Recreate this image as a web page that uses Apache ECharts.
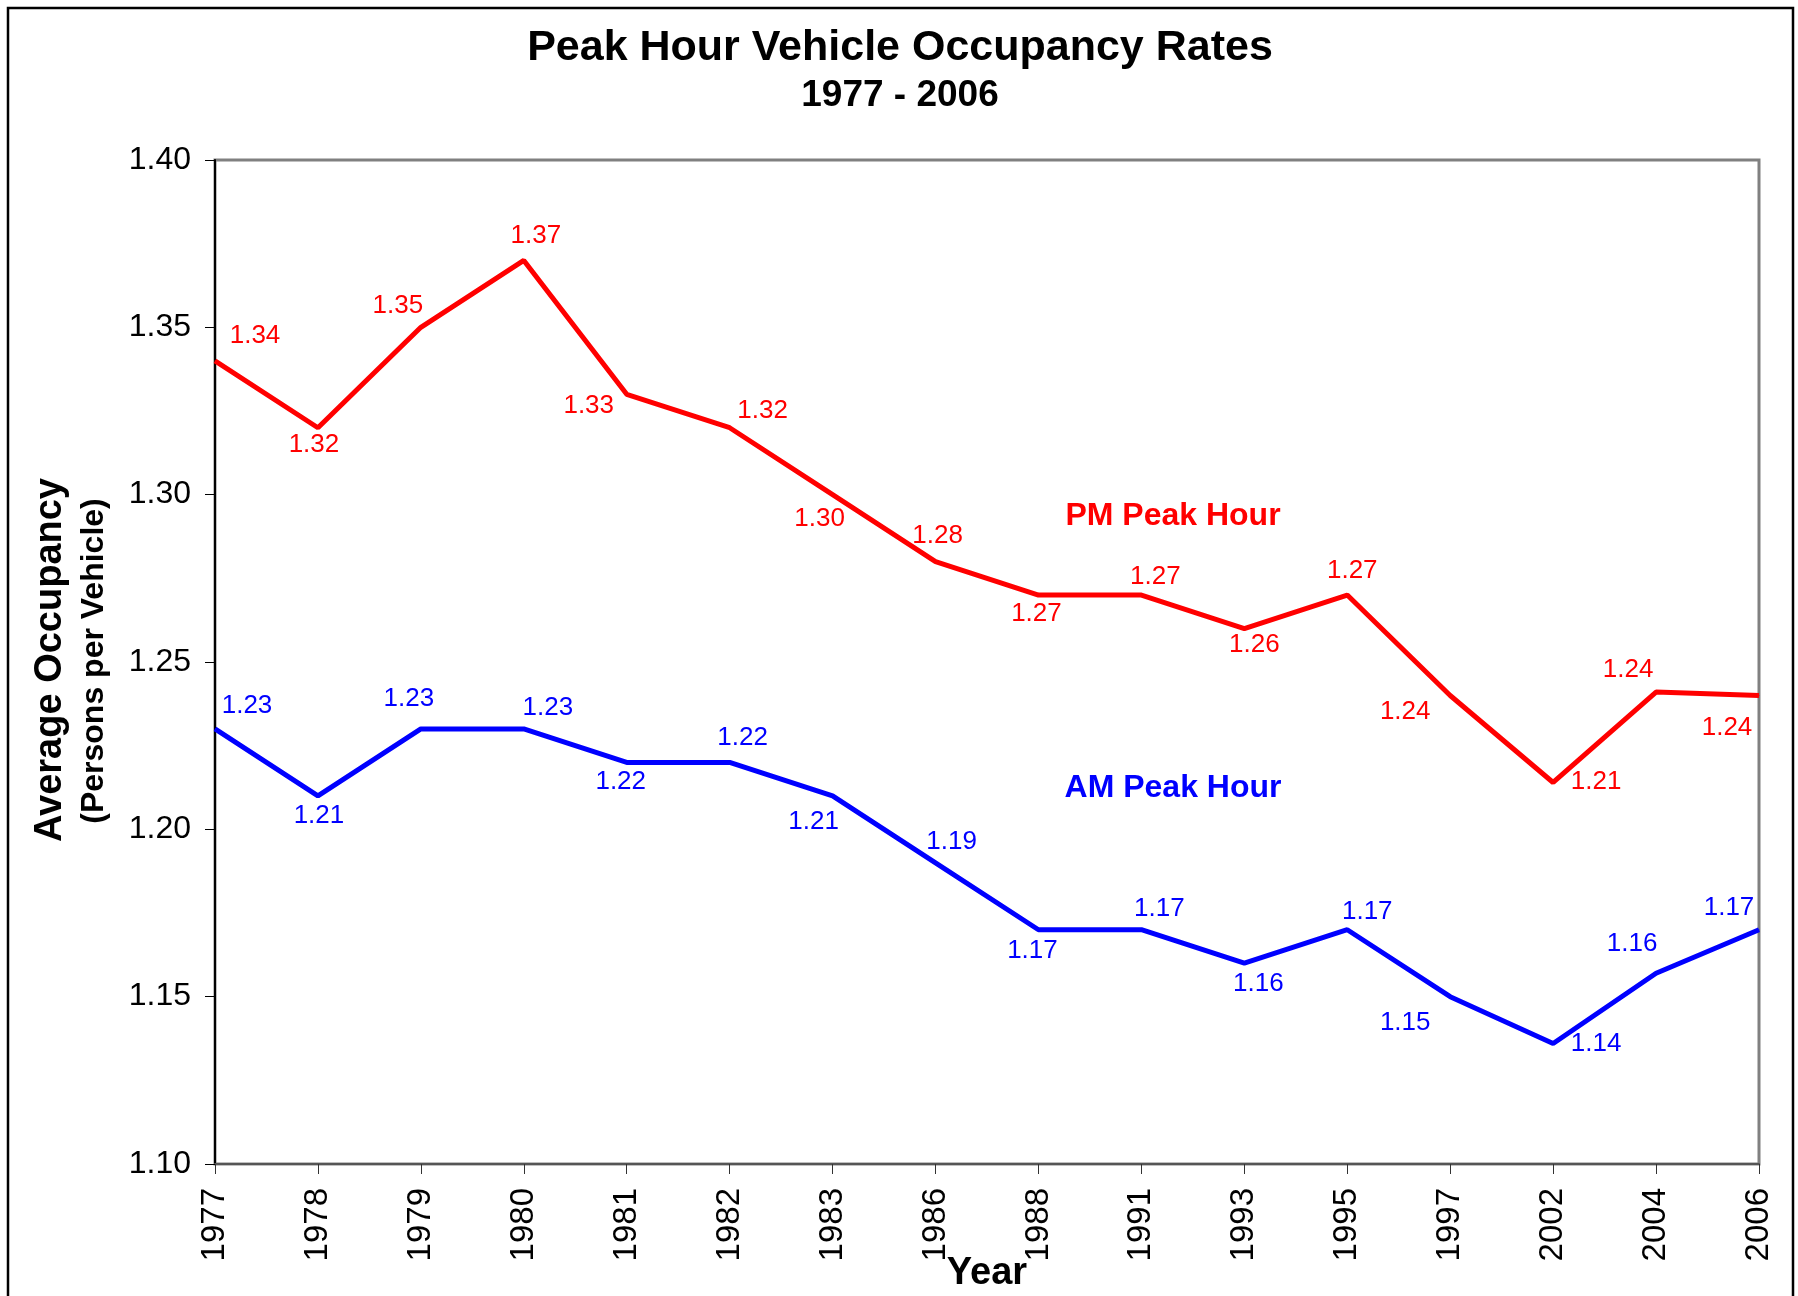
<!DOCTYPE html>
<html>
<head>
<meta charset="utf-8">
<title>Peak Hour Vehicle Occupancy Rates</title>
<script src="https://cdn.jsdelivr.net/npm/echarts@6/dist/echarts.min.js"></script>
<style>
  html, body { margin: 0; padding: 0; background: #fff; }
  #main { width: 1798px; height: 1296px; }
</style>
</head>
<body>
<div id="main"></div>
<script>
var years = ['1977', '1978', '1979', '1980', '1981', '1982', '1983', '1986',
             '1988', '1991', '1993', '1995', '1997', '2002', '2004', '2006'];
var pmPeak = [1.34, 1.32, 1.35, 1.37, 1.33, 1.32, 1.30, 1.28,
              1.27, 1.27, 1.26, 1.27, 1.24, 1.214, 1.241, 1.240];
var amPeak = [1.23, 1.21, 1.23, 1.23, 1.22, 1.22, 1.21, 1.19,
              1.17, 1.17, 1.16, 1.17, 1.15, 1.136, 1.157, 1.170];
var yTicks = { min: 1.10, max: 1.40, step: 0.05 };

// where each value label sits, relative to its point (px)
var pmLabelPos = [[40, -25], [-4, 17], [-23, -22], [12, -25], [-38, 12], [33, -17], [-13, 24], [2, -26],
                  [-2, 19], [14, -18], [10, 16], [5, -24], [-45, 16], [43, -1], [-28, -22], [-32, 32]];
var amLabelPos = [[32, -23], [1, 20], [-12, -30], [24, -21], [-6, 19], [13, -25], [-19, 26], [16, -21],
                  [-6, 21], [18, -21], [14, 21], [20, -18], [-45, 26], [43, 0], [-24, -29], [-30, -22]];

var font = 'Liberation Sans, Arial, Helvetica, sans-serif';
var red = '#FF0000';
var blue = '#0000FF';

function buildPoints(values, offsets) {
	return values.map(function (v, i) {
		return { value: v, label: { offset: offsets[i] } };
	});
}

function buildSeries(name, values, offsets, color) {
	return {
		name: name,
		type: 'line',
		data: buildPoints(values, offsets),
		symbol: 'circle',
		symbolSize: 1,
		showSymbol: true,
		lineStyle: { color: color, width: 5 },
		itemStyle: { color: color },
		label: {
			show: true,
			position: 'inside',
			color: color,
			fontFamily: font,
			fontSize: 26,
			formatter: function (p) {
				return p.value.toFixed(2);
			}
		},
		emphasis: { disabled: true }
	};
}

var chart = echarts.init(document.getElementById('main'));

var option = {
	animation: false,
	backgroundColor: '#fff',
	grid: {
		left: 215,
		right: 39,
		top: 160,
		bottom: 132,
		outerBoundsMode: 'none',
		containLabel: false,
		show: true,
		borderColor: '#808080',
		borderWidth: 3
	},
	xAxis: {
		type: 'category',
		data: years,
		boundaryGap: false,
		name: 'Year',
		nameLocation: 'middle',
		nameGap: 91,
		nameMoveOverlap: false,
		nameTextStyle: { fontFamily: font, fontSize: 38, fontWeight: 'bold', color: '#000' },
		axisLine: { lineStyle: { color: '#555', width: 2 } },
		axisTick: { show: true, length: 10, alignWithLabel: true, lineStyle: { color: '#333', width: 1 } },
		axisLabel: {
			interval: 0,
			rotate: 90,
			margin: 24,
			fontFamily: font,
			fontSize: 33,
			color: '#000'
		},
		splitLine: { show: false }
	},
	yAxis: {
		type: 'value',
		min: yTicks.min,
		max: yTicks.max,
		interval: yTicks.step,
		axisLine: { show: true, lineStyle: { color: '#000', width: 2 } },
		axisTick: { show: true, length: 10, lineStyle: { color: '#000', width: 1 } },
		axisLabel: {
			margin: 24,
			fontFamily: font,
			fontSize: 32,
			color: '#000',
			formatter: function (v) {
				return v.toFixed(2);
			}
		},
		splitLine: { show: false }
	},
	graphic: [
		{
			type: 'rect',
			shape: { x: 8, y: 8, width: 1785, height: 1310 },
			style: { fill: 'none', stroke: '#000', lineWidth: 2.5 },
			silent: true
		},
		{
			type: 'text',
			x: 900, y: 48,
			style: {
				text: 'Peak Hour Vehicle Occupancy Rates',
				font: 'bold 43px ' + font,
				fill: '#000', textAlign: 'center', textVerticalAlign: 'middle'
			}
		},
		{
			type: 'text',
			x: 900, y: 96,
			style: {
				text: '1977 - 2006',
				font: 'bold 37px ' + font,
				fill: '#000', textAlign: 'center', textVerticalAlign: 'middle'
			}
		},
		{
			type: 'text',
			x: 51, y: 660,
			rotation: Math.PI / 2,
			style: {
				text: 'Average Occupancy',
				font: 'bold 38px ' + font,
				fill: '#000', textAlign: 'center', textVerticalAlign: 'middle'
			}
		},
		{
			type: 'text',
			x: 94, y: 661,
			rotation: Math.PI / 2,
			style: {
				text: '(Persons per Vehicle)',
				font: 'bold 32px ' + font,
				fill: '#000', textAlign: 'center', textVerticalAlign: 'middle'
			}
		},
		{
			type: 'text',
			x: 1173, y: 516,
			style: {
				text: 'PM Peak Hour',
				font: 'bold 32px ' + font,
				fill: red, textAlign: 'center', textVerticalAlign: 'middle'
			}
		},
		{
			type: 'text',
			x: 1173, y: 788,
			style: {
				text: 'AM Peak Hour',
				font: 'bold 32px ' + font,
				fill: blue, textAlign: 'center', textVerticalAlign: 'middle'
			}
		}
	],
	series: [
		buildSeries('PM Peak Hour', pmPeak, pmLabelPos, red),
		buildSeries('AM Peak Hour', amPeak, amLabelPos, blue)
	]
};

chart.setOption(option);
</script>
</body>
</html>
